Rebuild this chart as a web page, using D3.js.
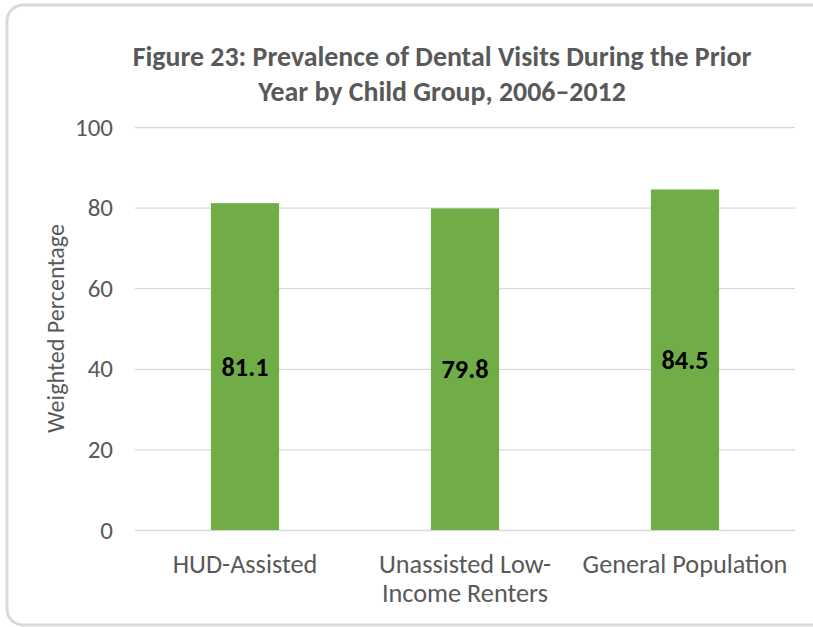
<!DOCTYPE html>
<html><head><meta charset="utf-8">
<script src="https://cdn.jsdelivr.net/npm/d3@7"></script>
<style>body{margin:0;background:#fff}svg{display:block}text{font-family:Carlito,"Open Sans",sans-serif}</style>
</head><body>
<script>
const categories = ["HUD-Assisted", "Unassisted Low-Income Renters", "General Population"];
const categoryLines = [["HUD-Assisted"], ["Unassisted Low-", "Income Renters"], ["General Population"]];
const values = [81.1, 79.8, 84.5];
const yTicks = [0, 20, 40, 60, 80, 100];
const titleLines = ["Figure 23: Prevalence of Dental Visits During the Prior", "Year by Child Group, 2006\u20132012"];
const yAxisTitle = "Weighted Percentage";

const W = 813, H = 627;
const svg = d3.select("body").append("svg").attr("width", W).attr("height", H);
svg.append("rect").attr("x", 7).attr("y", 5).attr("width", 820).attr("height", 620)
  .attr("rx", 16).attr("fill", "#fff").attr("stroke", "#d9d9d9").attr("stroke-width", 3);

// scale a text's font size so its rendered width matches a target width
function fitSize(sel, target) {
  let f = Infinity;
  sel.each(function() {
    const len = this.getComputedTextLength();
    if (len > 0) f = Math.min(f, 20 * target / len);
  });
  return f;
}

const plot = {left: 135, right: 795, top: 127, bottom: 530};
const x = d3.scaleBand().domain(categories).range([plot.left, plot.right]).paddingInner(0.69).paddingOuter(0.345);
const y = d3.scaleLinear().domain([0, 100]).range([plot.bottom, plot.top]);

// gridlines + tick labels
const yAxis = d3.axisLeft(y).tickValues(yTicks).tickSize(-(plot.right - plot.left)).tickPadding(22);
const ga = svg.append("g").attr("transform", `translate(${plot.left},0)`).call(yAxis);
ga.select(".domain").remove();
ga.selectAll(".tick line").attr("stroke", "#d9d9d9").attr("stroke-width", 1.3);
const tt = ga.selectAll(".tick text").attr("fill", "#595959").style("font-size", "20px").attr("font-family", null);
const tickHundred = tt.filter(d => d === 100);
tt.style("font-size", fitSize(tickHundred, 38) + "px");

// bars
svg.append("g").selectAll("rect").data(values).join("rect")
  .attr("x", (d, i) => x(categories[i])).attr("width", x.bandwidth())
  .attr("y", d => y(d)).attr("height", d => y(0) - y(d)).attr("fill", "#70ad47");

// value labels
const vl = svg.append("g").selectAll("text").data(values).join("text")
  .attr("x", (d, i) => x(categories[i]) + x.bandwidth() / 2)
  .attr("y", d => y(d / 2)).attr("dy", "0.35em").attr("text-anchor", "middle")
  .style("font-size", "20px").style("font-weight", "bold").attr("fill", "#000")
  .text(d => d.toFixed(1));
vl.style("font-size", fitSize(vl.filter((d, i) => i === 0), 47) + "px");

// x labels
const xl = svg.append("g").selectAll("text").data(categories).join("text")
  .attr("x", d => x(d) + x.bandwidth() / 2).attr("y", 573)
  .attr("text-anchor", "middle").style("font-size", "20px").attr("fill", "#595959");
xl.selectAll("tspan").data((d, i) => categoryLines[i]).join("tspan")
  .attr("x", function() { return d3.select(this.parentNode).attr("x"); })
  .attr("dy", (d, j) => j === 0 ? 0 : 29).text(d => d);
const gp = xl.filter((d, i) => i === 2);
xl.style("font-size", fitSize(gp, 205) + "px");

// axis title
const at = svg.append("text").attr("transform", `translate(64,${(plot.top + plot.bottom) / 2}) rotate(-90)`)
  .attr("text-anchor", "middle").style("font-size", "20px").attr("fill", "#595959").text(yAxisTitle);
at.style("font-size", fitSize(at, 209) + "px");

// title
const ti = svg.append("g").selectAll("text").data(titleLines).join("text")
  .attr("x", 442).attr("y", (d, i) => 66 + i * 35).attr("text-anchor", "middle")
  .style("font-size", "20px").style("font-weight", "bold").attr("fill", "#595959").text(d => d);
ti.style("font-size", fitSize(ti.filter((d, i) => i === 0), 619) + "px");
</script>
</body></html>
